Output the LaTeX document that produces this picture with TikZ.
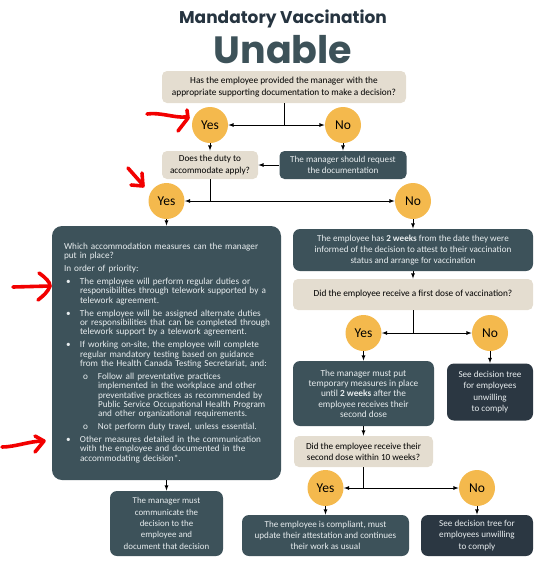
\documentclass[tikz,border=0pt]{standalone}
\usepackage{fontspec}
\setmainfont{Carlito}
\newfontfamily\titlefont{Poppins}
\definecolor{qbeige}{HTML}{E4DDD0}
\definecolor{slate}{HTML}{3D525A}
\definecolor{navy}{HTML}{2B3742}
\definecolor{gold}{HTML}{F4B94D}
\definecolor{titlecol}{HTML}{263440}
\definecolor{unablecol}{HTML}{3D5259}
\definecolor{paletxt}{HTML}{E8EDEF}
\definecolor{scribble}{HTML}{F20000}
% bullets of the measures box
\newcommand{\bpoint}[1]{\par\vspace{3.4pt}\hangindent=16pt\hangafter=1\noindent\hspace*{2pt}\makebox[14pt][l]{\textbullet}#1}
\newcommand{\spoint}[1]{\par\vspace{3.4pt}\hangindent=34pt\hangafter=1\noindent\hspace*{19pt}\makebox[15pt][l]{o}#1}

\begin{document}
\begin{tikzpicture}[x=1pt,y=-1pt,>=latex,line width=0.8pt,
    question/.style={fill=qbeige,rounded corners=5pt,align=center,inner sep=2pt,font=\fontsize{9.2}{11.2}\selectfont},
    action/.style={fill=slate,rounded corners=7pt,align=center,inner sep=2pt,text=paletxt,font=\fontsize{9.1}{11.2}\selectfont},
    refer/.style={action,fill=navy},
    answer/.style={circle,fill=gold,minimum size=36pt,inner sep=0pt,font=\fontsize{13.5}{13.5}\selectfont},
    scrawl/.style={scribble,line width=3.6pt,line cap=round,line join=round}]
    \useasboundingbox (0,0) rectangle (540,566);
    % title
    \node[font=\titlefont\bfseries\fontsize{17}{17}\selectfont,text=titlecol] (title) at (283,19) {Mandatory Vaccination};
    \node[font=\titlefont\bfseries\fontsize{38}{38}\selectfont,text=unablecol] (unable) at (283,50) {Unable};
    % first question
    \node[question,minimum width=244pt,minimum height=32pt,font=\fontsize{9.3}{12.4}\selectfont] (docs) at (284,87) {Has the employee provided the manager with the\\appropriate supporting documentation to make a decision?};
    \node[answer] (yes1) at (210,125) {Yes};
    \node[answer] (no1) at (343,125) {No};
    \coordinate (j1) at (284,125);
    \node[question,minimum width=96pt,minimum height=28pt] (duty) at (210,165) {Does the duty to\\accommodate apply?};
    \node[action,minimum width=127pt,minimum height=28pt,rounded corners=5pt] (request) at (343,165) {The manager should request\\the documentation};
    \draw (docs) -- (j1);
    \draw[->] (j1) -- (yes1);
    \draw[->] (j1) -- (no1);
    \draw[->] (yes1) -- (duty);
    \draw[->] (no1) -- (request);
    \draw[->] (request) -- (duty);
    % duty to accommodate
    \node[answer] (yes2) at (166.5,201) {Yes};
    \node[answer] (no2) at (413,201) {No};
    \coordinate (j2) at (210,201);
    \draw (duty) -- (j2);
    \draw[->] (j2) -- (yes2);
    \draw[->] (j2) -- (no2);
    \node[action,align=left,text width=217pt,inner xsep=6pt,inner ysep=0pt,minimum height=254pt,rounded corners=10pt,font=\fontsize{9.2}{9.4}\selectfont] (measures) at (166.5,353) {\leftskip=6pt Which accommodation measures can the manager\\put in place?\par\vspace{3.4pt}\noindent In order of priority:
        \bpoint{The employee will perform regular duties or\newline responsibilities through telework supported by a\newline telework agreement.}
        \bpoint{The employee will be assigned alternate duties\newline or responsibilities that can be completed through\newline telework support by a telework agreement.}
        \bpoint{If working on-site, the employee will complete\newline regular mandatory testing based on guidance\newline from the Health Canada Testing Secretariat, and:}
        \spoint{Follow all preventative practices\newline implemented in the workplace and other\newline preventative practices as recommended by\newline Public Service Occupational Health Program\newline and other organizational requirements.}
        \spoint{Not perform duty travel, unless essential.}
        \bpoint{Other measures detailed in the communication\newline with the employee and documented in the\newline accommodating decision*.}\par};
    \node[action,minimum width=113pt,minimum height=65pt,font=\fontsize{8.9}{11.3}\selectfont] (communicate) at (166.5,523.5) {The manager must\\communicate the\\decision to the\\employee and\\document that decision};
    \draw[->] (yes2) -- (measures);
    \draw[->] (measures) -- (communicate);
    % vaccination branch
    \node[action,minimum width=240pt,minimum height=42pt] (twoweeks) at (413,250) {The employee has \textbf{2 weeks} from the date they were\\informed of the decision to attest to their vaccination\\status and arrange for vaccination};
    \node[question,minimum width=240pt,minimum height=31pt,font=\fontsize{9.3}{11.2}\selectfont] (firstdose) at (413,294.5) {Did the employee receive a first dose of vaccination?};
    \node[answer] (yes3) at (363.5,333) {Yes};
    \node[answer] (no3) at (490,333) {No};
    \coordinate (j3) at (413,333);
    \draw[->] (no2) -- (twoweeks);
    \draw[->] (twoweeks) -- (firstdose);
    \draw (firstdose) -- (j3);
    \draw[->] (j3) -- (yes3);
    \draw[->] (j3) -- (no3);
    \node[action,minimum width=141pt,minimum height=65pt,font=\fontsize{9.3}{10.3}\selectfont] (temporary) at (363.5,393.5) {The manager must put\\temporary measures in place\\until \textbf{2 weeks} after the\\employee receives their\\second dose};
    \node[refer,minimum width=86pt,minimum height=57pt] (unwilling1) at (490,392) {See decision tree\\for employees\\unwilling\\to comply};
    \draw[->] (yes3) -- (temporary);
    \draw[->] (no3) -- (unwilling1);
    \node[question,minimum width=139pt,minimum height=31pt] (seconddose) at (363.5,451.5) {Did the employee receive their\\second dose within 10 weeks?};
    \node[answer] (yes4) at (325.5,488) {Yes};
    \node[answer] (no4) at (477,488) {No};
    \coordinate (j4) at (363.5,488);
    \draw[->] (temporary) -- (seconddose);
    \draw (seconddose) -- (j4);
    \draw[->] (j4) -- (yes4);
    \draw[->] (j4) -- (no4);
    \node[action,minimum width=167pt,minimum height=41pt] (compliant) at (325.5,535.5) {The employee is compliant, must\\update their attestation and continues\\their work as usual};
    \node[refer,minimum width=112pt,minimum height=41pt] (unwilling2) at (477,535.5) {See decision tree for\\employees unwilling\\to comply};
    \draw[->] (yes4) -- (compliant);
    \draw[->] (no4) -- (unwilling2);
    % red hand-drawn marks
    \draw[scrawl] (147,114) .. controls (160,112) and (174,118) .. (186,117);
    \draw[scrawl] (187,110) -- (188,118) -- (178,131);
    \draw[scrawl] (128,168) -- (143,185);
    \draw[scrawl] (131,185) -- (143,186) -- (142,173);
    \draw[scrawl] (13,287) -- (50,286);
    \draw[scrawl] (39,273) .. controls (46,278) and (50,282) .. (50,286) .. controls (48,292) and (43,296) .. (38,300);
    \draw[scrawl] (2,447) .. controls (15,447) and (30,441) .. (43,441);
    \draw[scrawl] (35,436) -- (44,441) -- (35,452);
\end{tikzpicture}
\end{document}
